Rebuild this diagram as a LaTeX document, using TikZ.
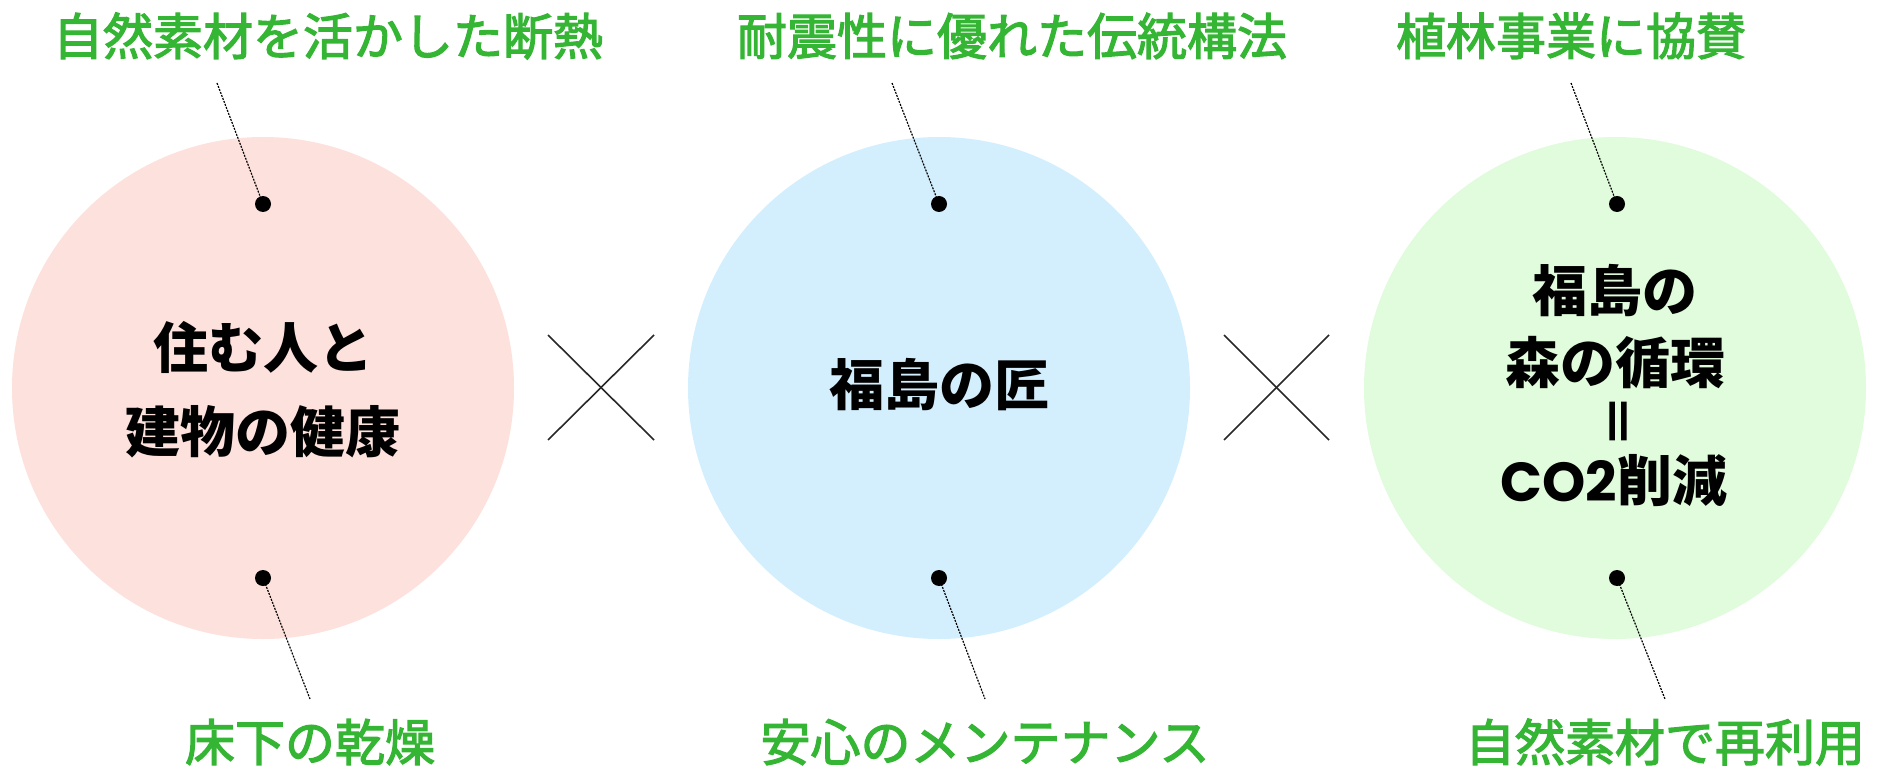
\documentclass[tikz,border=0pt]{standalone}
\usepackage{fontspec}
\newfontfamily\jp{Noto Sans CJK JP}
\newfontfamily\jpm{Noto Sans CJK JP}[BoldFont={Noto Sans CJK JP}, BoldFeatures={FakeBold=2.4}]
\newfontfamily\jpx{Noto Sans CJK JP}[BoldFeatures={FakeBold=3}]
\newfontfamily\pop{Poppins}
\definecolor{lgreen}{RGB}{53,181,52}
\definecolor{pinkf}{RGB}{253,225,220}
\definecolor{bluef}{RGB}{211,239,254}
\definecolor{greenf}{RGB}{224,252,220}
\definecolor{xgray}{RGB}{40,40,40}
\tikzset{
  lbl/.style={font=\jpm\bfseries\fontsize{25pt}{30pt}\selectfont, text=lgreen, inner sep=0pt},
  ctr/.style={font=\jp\bfseries\fontsize{27.5pt}{33pt}\selectfont, text=black, inner sep=0pt},
  circ/.style={circle, minimum size=251pt, inner sep=0pt, draw=none},
  dotm/.style={circle, fill=black, minimum size=8pt, inner sep=0pt},
  leader/.style={line width=0.6pt, dash pattern=on 1pt off 0.6pt, black},
  cross/.style={line width=0.8pt, xgray}
}
\begin{document}
\begin{tikzpicture}[x=0.5pt, y=-0.5pt]
\useasboundingbox (0,0) rectangle (1890,770);
% circles
\node[circ, fill=pinkf] (c1) at (263,388) {};
\node[circ, fill=bluef] (c2) at (939,388) {};
\node[circ, fill=greenf] (c3) at (1615,388) {};
% cross marks
\coordinate (x1a) at (548,335); \coordinate (x1b) at (654,440);
\coordinate (x1c) at (654,335); \coordinate (x1d) at (548,440);
\draw[cross] (x1a) -- (x1b); \draw[cross] (x1c) -- (x1d);
\coordinate (x2a) at (1224,335); \coordinate (x2b) at (1329,440);
\coordinate (x2c) at (1329,335); \coordinate (x2d) at (1224,440);
\draw[cross] (x2a) -- (x2b); \draw[cross] (x2c) -- (x2d);
% center texts
\node[ctr] (t1a) at (263,347) {住む人と};
\node[ctr] (t1b) at (263,432) {建物の健康};
\node[ctr] (t2) at (939,385) {福島の匠};
\node[ctr] (t3a) at (1615,291) {福島の};
\node[ctr] (t3b) at (1615,363) {森の循環};
\node[ctr] (t3c) at (1618,421) {\scalebox{1.3}[0.68]{\jpx\bfseries ‖}};
\node[ctr] (t3d) at (1614,481) {{\pop\bfseries CO2}削減};
% dots
\node[dotm] (d1t) at (263,204) {};
\node[dotm] (d1b) at (263,578) {};
\node[dotm] (d2t) at (939,204) {};
\node[dotm] (d2b) at (939,578) {};
\node[dotm] (d3t) at (1617,204) {};
\node[dotm] (d3b) at (1617,578) {};
% leader ends
\coordinate (e1t) at (217,83);
\coordinate (e1b) at (310,699);
\coordinate (e2t) at (892,83);
\coordinate (e2b) at (985,699);
\coordinate (e3t) at (1571,83);
\coordinate (e3b) at (1665,699);
\draw[leader] (e1t) -- (d1t.center);
\draw[leader] (d1b.center) -- (e1b);
\draw[leader] (e2t) -- (d2t.center);
\draw[leader] (d2b.center) -- (e2b);
\draw[leader] (e3t) -- (d3t.center);
\draw[leader] (d3b.center) -- (e3b);
% labels
\node[lbl] (l1t) at (328,36) {自然素材を活かした断熱};
\node[lbl] (l1b) at (310,742) {床下の乾燥};
\node[lbl] (l2t) at (1012,36) {耐震性に優れた伝統構法};
\node[lbl] (l2b) at (985,742) {安心のメンテナンス};
\node[lbl] (l3t) at (1571,36) {植林事業に協賛};
\node[lbl] (l3b) at (1665,742) {自然素材で再利用};
\end{tikzpicture}
\end{document}
